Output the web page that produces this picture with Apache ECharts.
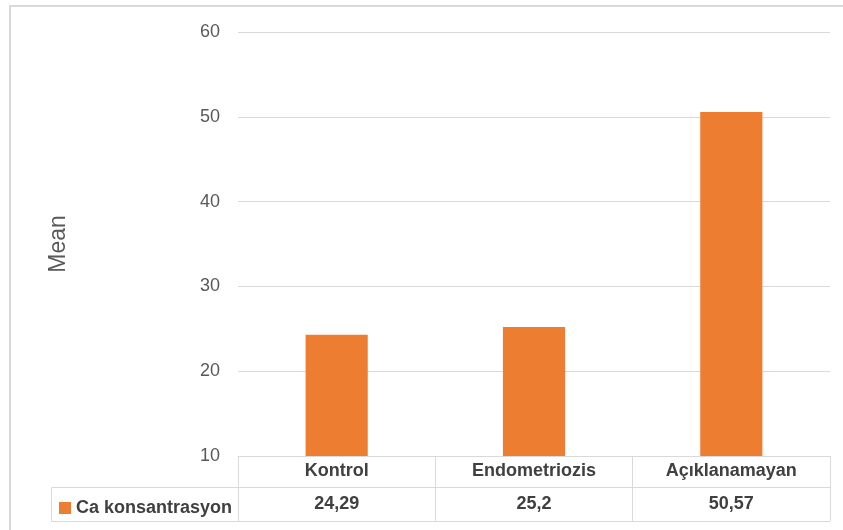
<!DOCTYPE html>
<html><head><meta charset="utf-8">
<script src="https://cdn.jsdelivr.net/npm/echarts@6/dist/echarts.min.js"></script>
<style>html,body{margin:0;padding:0;background:#fff}#c{width:843px;height:530px}</style>
</head><body><div id="c"></div>
<script>
const categories = ['Kontrol', 'Endometriozis', 'Açıklanamayan'];
const values = [24.29, 25.2, 50.57];
const valueLabels = ['24,29', '25,2', '50,57'];
const seriesName = 'Ca konsantrasyon';
const yTicks = {min: 10, max: 60, interval: 10};

const FONT = '"Liberation Sans", Arial, sans-serif';
const chart = echarts.init(document.getElementById('c'), null, {renderer: 'canvas'});
chart.setOption({
  animation: false,
  backgroundColor: '#fff',
  textStyle: {fontFamily: FONT},
  grid: {left: 238, right: 13, top: 32, bottom: 74, containLabel: false},
  legend: {
    data: [seriesName], left: 54, top: 494, itemWidth: 12, itemHeight: 12, itemGap: 4,
    icon: 'rect', selectedMode: false,
    textStyle: {fontFamily: FONT, fontSize: 18, fontWeight: 'bold', color: '#404040', padding: [0,0,0,0]}
  },
  xAxis: [
    {
      type: 'category', data: categories, position: 'bottom',
      axisLine: {show: true, lineStyle: {color: '#d9d9d9', width: 1}},
      axisTick: {show: true, inside: false, length: 65, lineStyle: {color: '#d9d9d9'}},
      axisLabel: {margin: 6, fontFamily: FONT, fontSize: 18, fontWeight: 'bold', color: '#404040'}
    },
    {
      type: 'category', data: valueLabels, position: 'bottom', offset: 31,
      axisLine: {show: true, lineStyle: {color: '#d9d9d9', width: 1}},
      axisTick: {show: false},
      axisLabel: {margin: 8, fontFamily: FONT, fontSize: 18, fontWeight: 'bold', color: '#404040'}
    },
    {
      type: 'category', data: categories, position: 'bottom', offset: 65,
      axisLine: {show: true, lineStyle: {color: '#d9d9d9', width: 1}},
      axisTick: {show: false}, axisLabel: {show: false}
    }
  ],
  yAxis: {
    type: 'value', min: yTicks.min, max: yTicks.max, interval: yTicks.interval,
    name: 'Mean', nameLocation: 'middle', nameGap: 168, nameRotate: 90,
    nameTextStyle: {fontFamily: FONT, fontSize: 23, color: '#595959'},
    axisLine: {show: false}, axisTick: {show: false},
    axisLabel: {margin: 18, fontFamily: FONT, fontSize: 18, color: '#595959'},
    splitLine: {lineStyle: {color: '#d9d9d9', width: 1}}
  },
  series: [{
    name: seriesName, type: 'bar', xAxisIndex: 0, data: values, barWidth: '31.5%',
    itemStyle: {color: '#ED7D31'}
  }],
  graphic: [
    {type: 'rect', shape: {x: 10, y: 6, width: 900, height: 600}, style: {fill: 'none', stroke: '#d9d9d9', lineWidth: 2}, silent: true},
    {type: 'rect', shape: {x: 51.5, y: 487.5, width: 187, height: 34}, style: {fill: 'none', stroke: '#d9d9d9', lineWidth: 1}, silent: true}
  ]
});
</script></body></html>
